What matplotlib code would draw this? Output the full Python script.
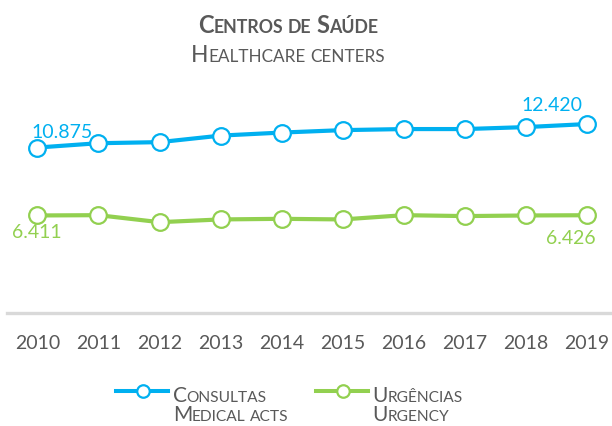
import matplotlib
matplotlib.use('Agg')
import matplotlib.pyplot as plt
from matplotlib.lines import Line2D
from matplotlib.transforms import IdentityTransform

plt.rcParams['font.family'] = ['Lato', 'DejaVu Sans']

# data
years = ['2010', '2011', '2012', '2013', '2014', '2015', '2016', '2017', '2018', '2019']
consultas = [10.875, 11.16, 11.23, 11.66, 11.86, 12.02, 12.09, 12.09, 12.22, 12.420]
urgencias = [6.411, 6.43, 5.97, 6.15, 6.19, 6.15, 6.43, 6.37, 6.41, 6.426]

BLUE = '#00B0F0'
GREEN = '#92D050'
GREY = '#595959'
W, H = 612, 426

fig = plt.figure(figsize=(W / 100, H / 100), dpi=100)
ax = fig.add_axes([6.75 / W, 113 / H, 605.25 / W, 213 / H])

x = list(range(len(years)))
ax.plot(x, consultas, color=BLUE, lw=3.0, marker='o', ms=12,
        mfc='white', mec=BLUE, mew=1.6, zorder=3)
ax.plot(x, urgencias, color=GREEN, lw=3.0, marker='o', ms=12,
        mfc='white', mec=GREEN, mew=1.6, zorder=3)

ax.set_xlim(-0.5, -0.5 + 605.25 / 61.1)
ax.set_ylim(0, 14)

# first / last value labels
ax.annotate(f'{consultas[0]:.3f}', (x[0], consultas[0]), xytext=(18, 7),
            textcoords='offset points', ha='center', va='baseline',
            fontsize=14, color=BLUE)
ax.annotate(f'{consultas[-1]:.3f}', (x[-1], consultas[-1]), xytext=(-25.5, 9.5),
            textcoords='offset points', ha='center', va='baseline',
            fontsize=14, color=BLUE)
ax.annotate(f'{urgencias[0]:.3f}', (x[0], urgencias[0]), xytext=(0, -16),
            textcoords='offset points', ha='center', va='baseline',
            fontsize=14, color=GREEN)
ax.annotate(f'{urgencias[-1]:.3f}', (x[-1], urgencias[-1]), xytext=(-12, -21),
            textcoords='offset points', ha='center', va='baseline',
            fontsize=14, color=GREEN)

ax.set_xticks(x, labels=years)
ax.set_yticks([])
ax.tick_params(axis='x', length=0, pad=16, labelsize=14, labelcolor=GREY)
for side in ['top', 'left', 'right']:
    ax.spines[side].set_visible(False)
ax.spines['bottom'].set_color('#D9D9D9')
ax.spines['bottom'].set_linewidth(2.4)


def small_caps(x0, y0, s, big, small, weight='normal', ha='left'):
    """draw text in small caps at pixel position (baseline)"""
    renderer = fig.canvas.get_renderer()
    parts = []
    cursor = 0.0
    for wi, word in enumerate(s.split(' ')):
        if wi:
            cursor += 0.26 * small * fig.dpi / 72
        i = 0
        while i < len(word):
            is_big = word[i].isupper()
            j = i
            while j < len(word) and word[j].isupper() == is_big:
                j += 1
            t = fig.text(0, 0, word[i:j].upper(), fontsize=big if is_big else small,
                         fontweight=weight, color=GREY, transform=IdentityTransform(),
                         ha='left', va='baseline')
            wdt = t.get_window_extent(renderer).width
            parts.append((t, cursor))
            cursor += wdt
            i = j
    if ha == 'center':
        x0 = x0 - cursor / 2
    for t, off in parts:
        t.set_position((x0 + off, y0))


small_caps(288, H - 33.3, 'Centros de Saúde', 17, 12.8, weight='bold', ha='center')
small_caps(288, H - 62, 'Healthcare centers', 16.5, 12.3, ha='center')

# legend
for (x1, xm, x2), color in [((116, 142.5, 168.3), BLUE), ((316, 342.5, 368.3), GREEN)]:
    fig.add_artist(Line2D([x1, xm, x2], [H - 390.7] * 3, transform=IdentityTransform(),
                          color=color, lw=2.9, marker='o', markevery=[1], ms=9,
                          mfc='white', mec=color, mew=1.6))
small_caps(172.7, H - 401.5, 'Consultas', 15, 11.2)
small_caps(172.7, H - 421, 'Medical acts', 15, 11.2)
small_caps(372.7, H - 401.5, 'Urgências', 15, 11.2)
small_caps(372.7, H - 421, 'Urgency', 15, 11.2)

fig.savefig('out.png', dpi=100)
